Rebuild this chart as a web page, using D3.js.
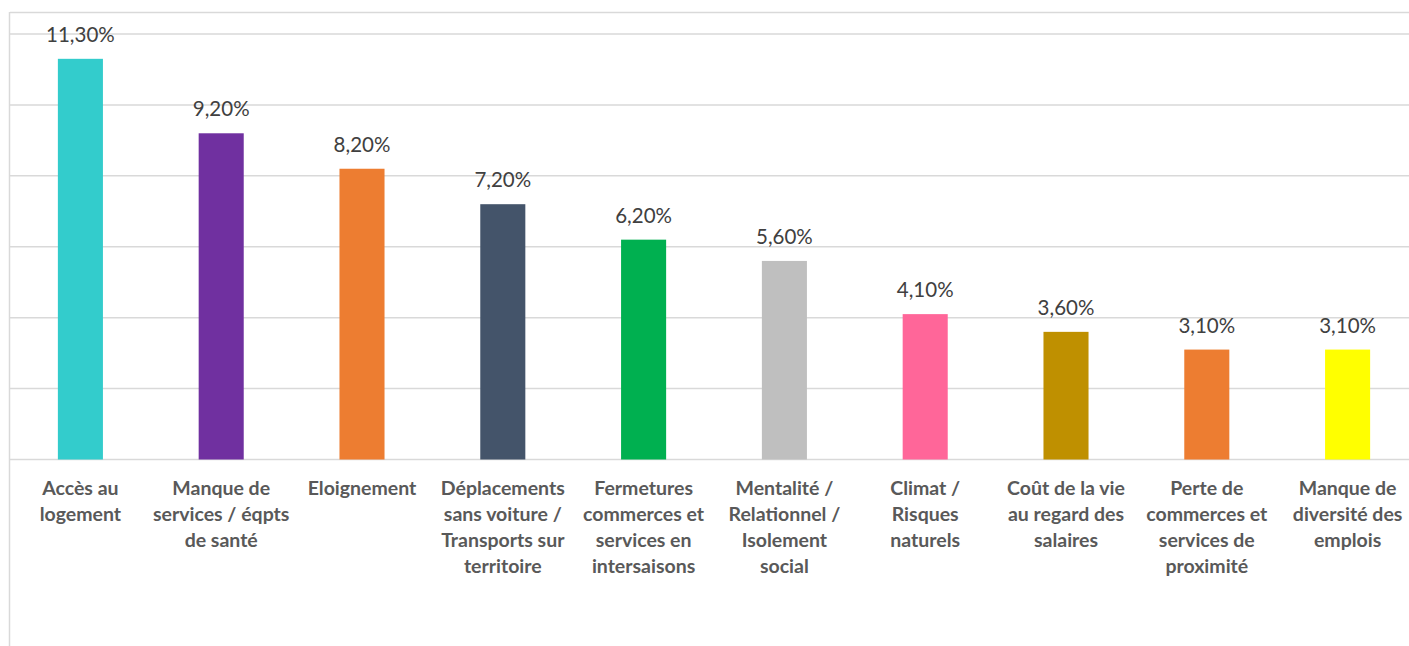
<!DOCTYPE html>
<html>
<head>
<meta charset="utf-8">
<script src="https://cdn.jsdelivr.net/npm/d3@7"></script>
<style>
  body { margin: 0; background: #fff; }
  svg { display: block; }
</style>
</head>
<body>
<div id="chart"></div>
<script>
'use strict';

// categories, one entry per line of the tick label
var categories = [
  ['Accès au', 'logement'],
  ['Manque de', 'services / éqpts', 'de santé'],
  ['Eloignement'],
  ['Déplacements', 'sans voiture /', 'Transports sur', 'territoire'],
  ['Fermetures', 'commerces et', 'services en', 'intersaisons'],
  ['Mentalité /', 'Relationnel /', 'Isolement', 'social'],
  ['Climat /', 'Risques', 'naturels'],
  ['Coût de la vie', 'au regard des', 'salaires'],
  ['Perte de', 'commerces et', 'services de', 'proximité'],
  ['Manque de', 'diversité des', 'emplois']
];
var values = [11.3, 9.2, 8.2, 7.2, 6.2, 5.6, 4.1, 3.6, 3.1, 3.1];
var colors = ['#33CCCC', '#7030A0', '#ED7D31', '#44546A', '#00B050', '#BFBFBF', '#FF6699', '#BF9000', '#ED7D31', '#FFFF00'];
var yTicks = [0, 2, 4, 6, 8, 10, 12];

var width = 1409, height = 646;
var margin = {top: 34, left: 10, bottom: 186};

var svg = d3.select('#chart').append('svg')
  .attr('width', width)
  .attr('height', height);

// chart border (top and left edges show in the crop)
svg.append('line')
  .attr('x1', 10).attr('x2', width).attr('y1', 12.5).attr('y2', 12.5)
  .attr('stroke', '#D9D9D9').attr('stroke-width', 1.5);
svg.append('line')
  .attr('x1', 9.5).attr('x2', 9.5).attr('y1', 12).attr('y2', height)
  .attr('stroke', '#D9D9D9').attr('stroke-width', 1.5);

var x = d3.scaleBand()
  .domain(d3.range(categories.length))
  .range([margin.left, margin.left + 1408])
  .paddingInner(0.68)
  .paddingOuter(0.34);

var y = d3.scaleLinear()
  .domain([0, 12])
  .range([459.5, 34]);

// gridlines
svg.append('g')
  .selectAll('line')
  .data(yTicks)
  .enter().append('line')
  .attr('x1', margin.left)
  .attr('x2', width)
  .attr('y1', function(d) { return y(d); })
  .attr('y2', function(d) { return y(d); })
  .attr('stroke', '#D9D9D9')
  .attr('stroke-width', 1.5);

// bars
svg.append('g')
  .selectAll('rect')
  .data(values)
  .enter().append('rect')
  .attr('x', function(d, i) { return x(i); })
  .attr('y', function(d) { return y(d); })
  .attr('width', x.bandwidth())
  .attr('height', function(d) { return y(0) - y(d); })
  .attr('fill', function(d, i) { return colors[i]; });

// value labels
svg.append('g')
  .selectAll('text')
  .data(values)
  .enter().append('text')
  .attr('x', function(d, i) { return x(i) + x.bandwidth() / 2; })
  .attr('y', function(d) { return y(d) - 17; })
  .attr('text-anchor', 'middle')
  .style('font-family', 'Lato, "Open Sans", sans-serif')
  .style('font-size', '20.5px')
  .style('fill', '#404040')
  .text(function(d) { return d.toFixed(2).replace('.', ',') + '%'; });

// category labels
var labels = svg.append('g')
  .selectAll('text')
  .data(categories)
  .enter().append('text')
  .attr('text-anchor', 'middle')
  .style('font-family', 'Lato, "Open Sans", sans-serif')
  .style('font-size', '19.5px')
  .style('font-weight', 'bold')
  .style('fill', '#595959');

labels.selectAll('tspan')
  .data(function(d, i) { return d.map(function(t) { return {t: t, i: i}; }); })
  .enter().append('tspan')
  .attr('x', function(d) { return x(d.i) + x.bandwidth() / 2; })
  .attr('y', function(d, j) { return 495 + j * 26; })
  .text(function(d) { return d.t; });
</script>
</body>
</html>
